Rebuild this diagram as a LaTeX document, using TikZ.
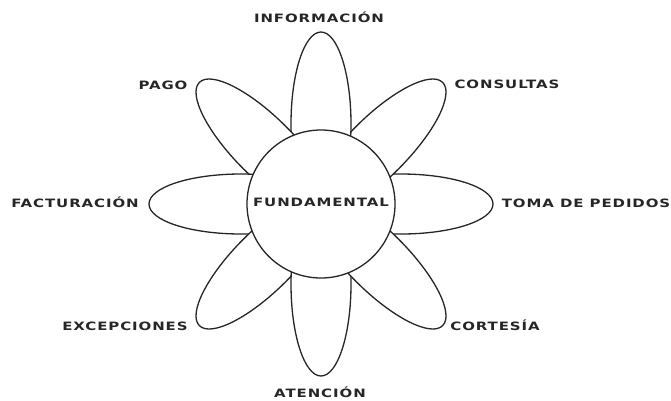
\documentclass[tikz,border=0pt]{standalone}
\usepackage{fontspec}
\newfontfamily\labfont[FakeStretch=1.3,LetterSpace=8]{DejaVu Sans}
\usepackage{tikz}
\usetikzlibrary{positioning}

\tikzset{
  petal/.style={draw=black!85, fill=white, line width=1.3pt},
  hub/.style={circle, draw=black!85, fill=white, line width=1.3pt, minimum size=148pt, inner sep=0pt},
  lab/.style={text=black!85, inner sep=0pt, anchor=base, font=\labfont\bfseries\fontsize{11.5}{13}\selectfont}
}

\begin{document}
\begin{tikzpicture}[x=1pt, y=-1pt]
  \useasboundingbox (0,0) rectangle (671,400);
  \coordinate (C) at (321,204);
  % petals
  \foreach \a in {0,45,...,315}{
    \begin{scope}[shift={(C)}, rotate=\a]
      \draw[petal] (80,0) ellipse (92 and 30);
    \end{scope}
  }
  \node[hub] (fund) at (C) {};
  \node[lab] (fundlab) at (321,206.5) {FUNDAMENTAL};
  % labels
  \node[lab] (info) at (319,22.5)  {INFORMACIÓN};
  \node[lab] (pago) at (163,89.5)  {PAGO};
  \node[lab] (cons) at (507,88.5)  {CONSULTAS};
  \node[lab] (fact) at (75,207.5)  {FACTURACIÓN};
  \node[lab] (toma) at (586,207.5) {TOMA DE PEDIDOS};
  \node[lab] (exce) at (125,330.5) {EXCEPCIONES};
  \node[lab] (cort) at (495,330.5) {CORTESÍA};
  \node[lab] (aten) at (320,397.5) {ATENCIÓN};
\end{tikzpicture}
\end{document}
